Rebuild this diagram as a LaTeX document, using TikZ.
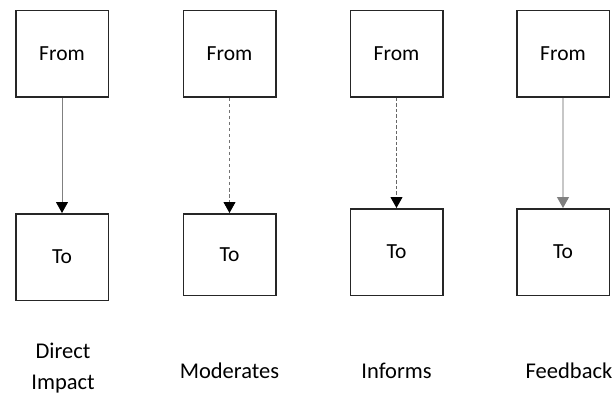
\documentclass[tikz,border=0pt]{standalone}
\usepackage{fontspec}
\setmainfont{Carlito}
\usetikzlibrary{arrows.meta}
\begin{document}
\begin{tikzpicture}[x=1pt,y=-1pt,
  box/.style={draw=black!85, line width=1.5pt, fill=white, inner sep=0pt,
    minimum width=92.5pt, font=\fontsize{21.5}{26}\selectfont},
  lab/.style={font=\fontsize{22.5}{31}\selectfont, align=center},
  tip/.style={-{Triangle[width=12pt,length=11pt,color=black]}},
  link/.style={tip, draw=black!50, line width=0.8pt},
  modlink/.style={tip, draw=black!55, line width=0.8pt, dash pattern=on 3.5pt off 2.5pt},
  inflink/.style={tip, draw=black!60, line width=1pt, dash pattern=on 3.5pt off 2pt},
  fbklink/.style={-{Triangle[width=12pt,length=11pt,color=black!50]}, draw=black!22, line width=1.2pt},
]
\useasboundingbox[fill=white] (0,0) rectangle (616,401);

% source boxes
\node[box, minimum height=86.5pt] (f1) at (62,54) {From};
\node[box, minimum height=86.5pt] (f2) at (229.5,54) {From};
\node[box, minimum height=86.5pt] (f3) at (396.5,54) {From};
\node[box, minimum height=86.5pt] (f4) at (563,54) {From};

% target boxes
\node[box, minimum height=86.5pt] (t1) at (62,257) {To};
\node[box, minimum height=81.5pt] (t2) at (229.5,254.5) {To};
\node[box, minimum height=86.5pt] (t3) at (396.5,252) {To};
\node[box, minimum height=86.5pt] (t4) at (563,252) {To};

% relation arrows
\draw[link] (f1.south) -- (t1.north);
\draw[modlink] (f2.south) -- (t2.north);
\draw[inflink] (f3.south) -- (t3.north);
\draw[fbklink] (f4.south) -- (t4.north);

% relation names
\node[lab] (l1) at (63,368) {Direct\\Impact};
\node[lab] (l2) at (229.5,371) {Moderates};
\node[lab] (l3) at (396.5,371) {Informs};
\node[lab] (l4) at (569,371) {Feedback};
\end{tikzpicture}
\end{document}
